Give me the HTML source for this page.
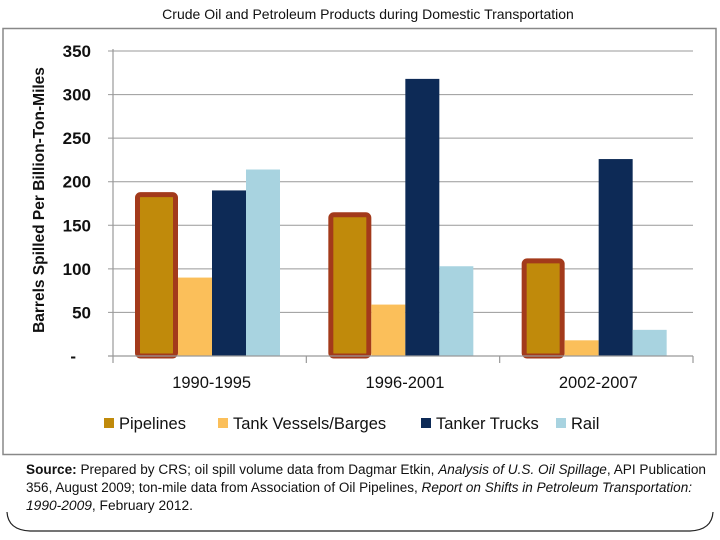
<!DOCTYPE html>
<html><head><meta charset="utf-8"><style>
body{margin:0;width:720px;height:540px;background:#fff;overflow:hidden;font-family:"Liberation Sans",sans-serif}
</style></head><body>
<svg id="c" width="720" height="540" style="position:absolute;left:0;top:0">
<text x="368" y="19" text-anchor="middle" font-size="14" fill="#111">Crude Oil and Petroleum Products during Domestic Transportation</text>
<rect x="3" y="28.5" width="713" height="426" fill="none" stroke="#888" stroke-width="1.5"/>
<text transform="translate(44,200) rotate(-90)" text-anchor="middle" font-size="15.5" font-weight="bold" fill="#111">Barrels Spilled Per Billion-Ton-Miles</text>
<g id="grid"></g><g id="bars"></g><g id="axes"></g>
<g font-size="13.5" fill="#111">
<text x="26" y="474" textLength="680" lengthAdjust="spacingAndGlyphs"><tspan font-weight="bold">Source:</tspan> Prepared by CRS; oil spill volume data from Dagmar Etkin, <tspan font-style="italic">Analysis of U.S. Oil Spillage</tspan>, API Publication</text>
<text x="26" y="492" textLength="666" lengthAdjust="spacingAndGlyphs">356, August 2009; ton-mile data from Association of Oil Pipelines, <tspan font-style="italic">Report on Shifts in Petroleum Transportation:</tspan></text>
<text x="26" y="510" textLength="167" lengthAdjust="spacingAndGlyphs"><tspan font-style="italic">1990-2009</tspan>, February 2012.</text>
</g>
<path d="M7,512 Q8,530 30,531 L690,531 Q712,530 713,512" fill="none" stroke="#222" stroke-width="1.2"/>
</svg>
<script>
const categories=["1990-1995","1996-2001","2002-2007"];
const seriesNames=["Pipelines","Tank Vessels/Barges","Tanker Trucks","Rail"];
const pipelines=[188,165,112];
const vessels=[90,59,18];
const trucks=[190,318,226];
const rail=[214,103,30];
const yTicks=[0,50,100,150,200,250,300,350];
const yTickLabels=["-","50","100","150","200","250","300","350"];
const colors=["#c08a0b","#fbbf5a","#0d2a56","#a8d3e0"];
const series=[pipelines,vessels,trucks,rail];
const NS="http://www.w3.org/2000/svg";
const X0=113,X1=693,Y0=356,Ymax=350,Ytop=51;
const y=v=>Y0-(v/Ymax)*(Y0-Ytop);
const gw=(X1-X0)/categories.length, pad=22, pw=43, bw=34;
function mk(t,a,p){const e=document.createElementNS(NS,t);for(const k in a)e.setAttribute(k,a[k]);document.getElementById(p).appendChild(e);return e;}
yTicks.forEach((t,i)=>{
 if(t>0){const l=mk('line',{x1:X0-5,x2:X1,y1:y(t),y2:y(t),stroke:'#999','stroke-width':1},'grid');
 
 }
 const tx=mk('text',{x:t===0?76:91,y:y(t)+6,'text-anchor':'end','font-size':17,'font-weight':'bold',fill:'#111'},'axes');
 tx.textContent=yTickLabels[i];
 
 
});
const ax=mk('line',{x1:X0,x2:X0,y1:Ytop-2,y2:Y0,stroke:'#999','stroke-width':1.2},'axes');


const xa=mk('line',{x1:X0-5,x2:X1,y1:Y0,y2:Y0,stroke:'#999','stroke-width':1.2},'axes');


for(let g=0;g<=categories.length;g++){const t=mk('line',{x1:X0+g*gw,x2:X0+g*gw,y1:Y0,y2:Y0+7,stroke:'#999','stroke-width':1.2},'axes');
 
 }
categories.forEach((c,g)=>{
 const gx=X0+g*gw+pad;
 series.forEach((s,si)=>{
  let r;
  if(si===0){r=mk('rect',{x:gx+2.5,y:y(s[g])+2.5,width:pw-5,height:Y0-y(s[g])-2.5,fill:colors[0],stroke:'#a33a1b','stroke-width':5,rx:3},'bars');}
  else {r=mk('rect',{x:gx+pw+(si-1)*bw,y:y(s[g]),width:bw,height:Y0-y(s[g]),fill:colors[si]},'bars');}
  
  
 });
 const t=mk('text',{x:X0+g*gw+gw/2+2,y:388,'text-anchor':'middle','font-size':16.5,fill:'#111'},'axes');
 t.textContent=c;
 
 
});
const lx=[104,218,421,556];
seriesNames.forEach((n,i)=>{
 const r=mk('rect',{x:lx[i],y:418,width:10,height:10,fill:colors[i]},'axes');
 
 
 const t=mk('text',{x:lx[i]+15,y:429,'font-size':16.5,fill:'#111'},'axes');
 t.textContent=n;
 
 
});
</script>
</body></html>
